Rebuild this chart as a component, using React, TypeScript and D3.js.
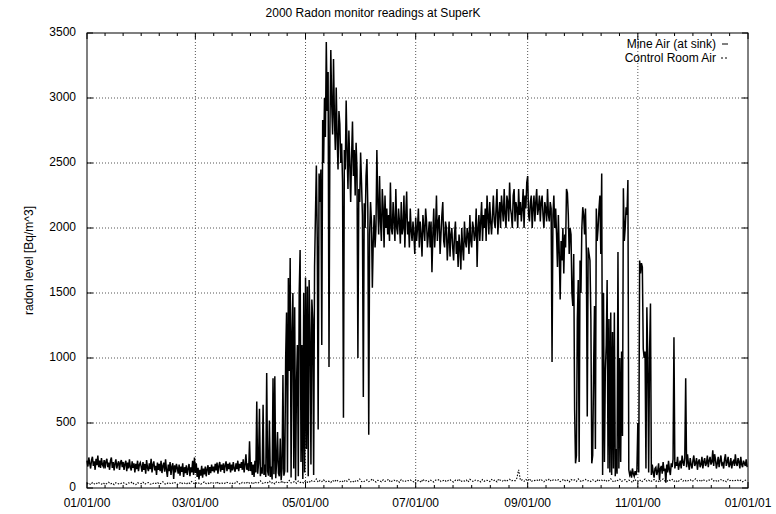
import React from 'react';
import * as d3 from 'd3';

const W = 776;
const H = 514;
const M = { left: 87, right: 748, top: 33, bottom: 488 };

const title = '2000 Radon monitor readings at SuperK';
const yLabel = 'radon level [Bq/m^3]';
const seriesNames = ['Mine Air (at sink)', 'Control Room Air'];

const yTicks = [0, 500, 1000, 1500, 2000, 2500, 3000, 3500];
const xTickMonths = [0, 2, 4, 6, 8, 10, 12];
const xTickLabels = ['01/01/00', '03/01/00', '05/01/00', '07/01/00', '09/01/00', '11/01/00', '01/01/01'];

// Mine air readings, one every 12 hours from 2000-01-01
const mineAir = [
  210,165,235,190,150,215,240,170,205,140,225,175,250,160,210,155,230,180,165,215,
  150,205,225,160,195,140,210,235,155,200,135,190,220,150,185,205,140,195,215,160,
  200,140,185,210,130,195,150,220,160,135,205,155,190,120,185,145,210,130,180,195,
  165,125,200,140,185,110,215,155,130,190,145,225,120,180,205,135,170,100,195,140,
  185,130,210,115,170,195,125,220,140,85,180,130,200,100,165,190,70,175,120,185,
  155,110,180,95,165,125,190,85,160,115,175,100,150,185,90,160,120,210,100,235,
  115,190,85,155,65,140,95,170,80,150,105,165,90,145,175,100,160,115,180,130,
  165,120,185,135,195,110,170,200,125,180,140,190,115,175,205,130,185,145,195,120,
  180,135,200,150,125,190,145,210,130,185,155,200,140,220,120,180,260,140,190,130,
  360,130,200,100,180,85,210,120,665,110,190,610,90,160,110,640,100,180,85,885,
  130,95,520,85,165,65,845,105,860,75,200,430,115,90,380,60,150,870,95,130,
  1000,1350,120,1615,900,1770,80,1200,1500,150,1390,60,800,1100,90,1500,1830,200,1100,70,
  1500,120,1620,300,1550,90,1600,1200,180,1450,1300,100,1700,2100,2480,1900,450,2420,2200,2450,
  1100,2830,2500,3000,2700,3430,2900,3200,930,2750,3370,2950,2720,3300,2850,2600,3080,2700,2450,2900,
  2800,2500,2650,2350,540,2600,2450,2980,2600,2300,2750,2500,2200,2550,2820,2400,2600,2250,2655,2450,
  1000,2300,2200,2580,2350,2100,700,2190,2000,2400,2530,2150,410,1950,2200,2050,1540,1900,2100,1850,
  2000,2600,2200,1950,2400,2050,1900,2300,2150,1850,2250,2000,2150,1950,2100,1900,2350,2000,1950,2200,
  2050,1900,2300,2000,1950,2150,2050,1880,2200,1950,2000,2250,1850,2100,2280,1950,2050,1850,2150,1980,
  1900,2050,1950,1800,2080,1900,2000,2150,1850,2050,1950,1780,2100,2000,1900,2150,2050,1850,1950,2050,
  1850,2050,1660,1950,2150,1850,2000,2250,1900,2050,2100,1800,1950,2100,2200,1900,1850,2050,2000,1750,
  1900,2050,1780,1950,2000,1850,1750,1950,2050,1800,1900,1700,1950,1850,1680,2000,1850,1750,2050,1900,
  1850,2000,1950,1800,2100,1900,1850,2050,2000,1900,1950,2150,1700,2000,2100,1900,2050,2200,1900,2100,
  2000,2150,1900,2250,2100,1950,2200,2050,1950,2100,2250,2050,2000,2150,2300,1950,2100,2200,2000,2250,
  2150,2050,2300,2100,2000,2250,2200,2050,2350,2150,2100,2000,2250,2300,2050,2200,2150,2000,2300,2100,
  2200,2050,2150,2300,2000,2250,2150,2350,2400,2100,2050,2200,2250,2000,2150,2250,2050,2200,2300,2100,
  2150,2250,2050,2200,2250,2100,2000,2200,2150,2050,2300,2100,2050,2200,2150,970,2100,2250,2000,2150,
  1950,1700,2100,1800,1450,1900,1750,2000,1650,1950,1850,2300,2270,2100,1800,2000,1950,1500,1400,1800,
  600,190,250,1300,1600,200,1750,1500,2000,2160,2100,1950,2150,1800,550,1850,1800,1750,1300,190,
  250,900,1400,300,2150,1900,2000,2150,2250,1800,2420,100,1500,200,900,1100,1600,150,1300,120,
  1350,100,1200,150,1350,90,300,110,1815,150,1000,200,1050,400,2305,1900,2000,2160,2100,2370,
  140,100,120,80,150,110,90,130,100,140,500,120,1750,1650,1730,1700,1070,1000,1050,150,
  1390,1000,120,1050,1420,100,180,120,80,150,160,100,130,190,60,150,170,110,200,130,
  150,40,180,120,210,140,100,190,160,220,1160,150,200,170,240,140,180,210,150,250,
  200,170,230,845,160,260,190,140,230,180,150,210,250,170,190,230,140,200,220,160,
  180,240,150,200,230,170,190,250,160,210,240,180,200,290,170,260,220,150,190,240,
  160,210,250,180,190,150,220,260,170,200,240,160,180,230,150,200,210,170,260,190,
  170,230,200,150,240,180,160,210,190,170,220,160
];

// Control room air readings, one per day from 2000-01-01
const controlRoom = [
  30,38,25,42,33,28,45,36,30,40,27,35,44,31,38,26,41,34,29,37,
  43,32,28,39,35,47,30,26,41,36,33,45,29,38,42,31,27,40,35,44,
  30,37,48,33,28,42,36,31,45,39,27,34,46,32,38,29,43,35,50,37,
  31,44,36,28,41,47,33,39,30,45,38,34,49,29,42,37,32,46,40,35,
  43,31,38,50,36,29,44,40,33,47,37,42,30,48,35,41,55,38,33,46,
  40,52,36,45,31,49,43,38,55,34,47,41,58,39,44,50,36,53,42,47,
  38,56,45,41,60,48,52,70,44,58,49,63,46,55,51,42,59,47,64,53,
  48,57,44,61,52,66,47,55,43,60,54,69,50,45,58,62,49,56,71,52,
  46,59,55,48,63,51,57,67,45,54,61,50,58,44,65,53,48,60,56,62,
  51,47,64,55,59,43,68,52,57,49,63,54,46,60,58,66,50,55,62,48,
  57,64,51,46,60,55,69,48,58,53,62,45,67,56,50,61,54,59,47,65,
  52,60,57,49,66,55,62,47,70,58,53,64,50,59,67,54,61,56,75,140,
  58,62,51,66,55,72,49,60,57,64,53,68,59,48,63,56,70,52,61,66,
  55,63,49,58,68,53,60,47,65,57,62,51,70,56,48,61,66,54,59,50,
  63,57,46,68,55,60,52,65,49,58,71,54,45,62,57,67,51,59,64,48,
  60,55,42,66,58,50,63,47,57,69,53,61,48,56,65,52,59,44,62,70,
  54,48,63,57,66,51,60,45,58,68,53,62,49,57,64,50,59,71,55,61,
  48,66,57,52,63,59,70,54,61,47,58,65,53,60,49,67,56,62,51,58,
  64,53,60,48,57,62
];

const FONT = '"Liberation Sans", Arial, Helvetica, sans-serif';

type Pt = { t: Date; v: number };

export default function App() {
  const start = new Date(Date.UTC(2000, 0, 1));
  const end = new Date(Date.UTC(2001, 0, 1));
  const x = d3.scaleUtc().domain([start, end]).range([M.left, M.right]);
  const y = d3.scaleLinear().domain([0, 3500]).range([M.bottom, M.top]);

  const mineData: Pt[] = mineAir.map((v, i) => ({ t: d3.utcHour.offset(start, 12 * i), v }));
  const ctrlData: Pt[] = controlRoom.map((v, i) => ({ t: d3.utcDay.offset(start, i), v }));
  const line = d3.line<Pt>().x(d => x(d.t)).y(d => y(d.v));

  const majorDates = xTickMonths.map(m => new Date(Date.UTC(2000, m, 1)));
  const minorX: number[] = [];
  for (let i = 0; i < majorDates.length - 1; i++) {
    const a = x(majorDates[i]);
    const b = x(majorDates[i + 1]);
    for (let k = 1; k < 6; k++) minorX.push(a + ((b - a) * k) / 6);
  }

  return (
    <svg width={W} height={H} style={{ position: 'absolute', left: 0, top: 0, background: '#fff' }} fontFamily={FONT}>
      <rect x={0} y={0} width={W} height={H} fill="#fff" />
      <text x={373} y={17} fontSize={12} textAnchor="middle">{title}</text>

      {/* grid */}
      {yTicks.slice(1, -1).map(t => (
        <line key={'gy' + t} x1={M.left} x2={M.right} y1={y(t)} y2={y(t)} stroke="#555" strokeDasharray="1,2" strokeWidth={1} />
      ))}
      {majorDates.slice(1, -1).map((d, i) => (
        <line key={'gx' + i} x1={x(d)} x2={x(d)} y1={M.top} y2={M.bottom} stroke="#555" strokeDasharray="1,2" strokeWidth={1} />
      ))}

      {/* data */}
      <path d={line(ctrlData) || ''} fill="none" stroke="#000" strokeWidth={1.1} strokeDasharray="1.5,1.5" />
      <path d={line(mineData) || ''} fill="none" stroke="#000" strokeWidth={1.5} strokeLinejoin="miter" />

      {/* ticks */}
      {yTicks.map(t => (
        <g key={'ty' + t}>
          <line x1={M.left} x2={M.left + 6} y1={y(t)} y2={y(t)} stroke="#000" />
          <line x1={M.right} x2={M.right - 6} y1={y(t)} y2={y(t)} stroke="#000" />
          <text x={76} y={y(t)} fontSize={12} textAnchor="end" dominantBaseline="middle">{t}</text>
        </g>
      ))}
      {majorDates.map((d, i) => (
        <g key={'tx' + i}>
          <line x1={x(d)} x2={x(d)} y1={M.bottom} y2={M.bottom - 6} stroke="#000" />
          <line x1={x(d)} x2={x(d)} y1={M.top} y2={M.top + 6} stroke="#000" />
          <text x={x(d)} y={507} fontSize={12} textAnchor="middle">{xTickLabels[i]}</text>
        </g>
      ))}
      {minorX.map((px, i) => (
        <g key={'mx' + i}>
          <line x1={px} x2={px} y1={M.bottom} y2={M.bottom - 3} stroke="#000" />
          <line x1={px} x2={px} y1={M.top} y2={M.top + 3} stroke="#000" />
        </g>
      ))}

      {/* frame */}
      <rect x={M.left} y={M.top} width={M.right - M.left} height={M.bottom - M.top} fill="none" stroke="#000" strokeWidth={1} />

      {/* y label */}
      <text transform={`translate(33,${(M.top + M.bottom) / 2}) rotate(-90)`} fontSize={12} textAnchor="middle">{yLabel}</text>

      {/* legend */}
      <text x={716} y={48} fontSize={12} textAnchor="end">{seriesNames[0]}</text>
      <line x1={722} x2={728} y1={44} y2={44} stroke="#000" strokeWidth={1} />
      <text x={716} y={62} fontSize={12} textAnchor="end">{seriesNames[1]}</text>
      <line x1={721} x2={729} y1={58} y2={58} stroke="#000" strokeWidth={1} strokeDasharray="2,2" />
    </svg>
  );
}
